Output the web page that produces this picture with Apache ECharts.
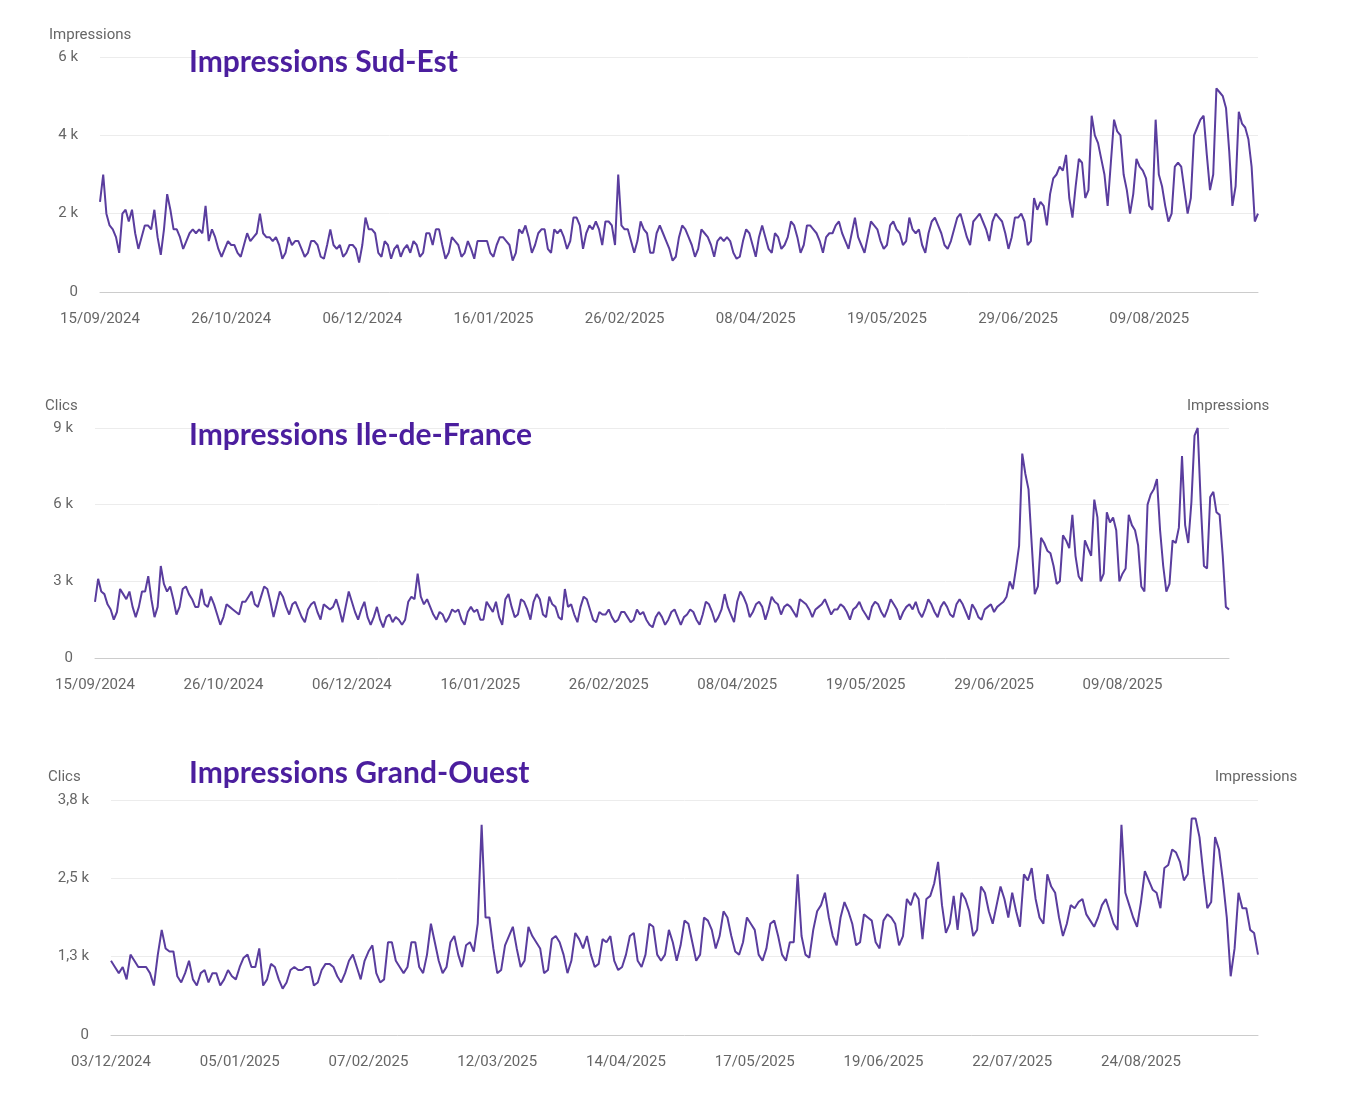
<!DOCTYPE html>
<html>
<head>
<meta charset="utf-8">
<script src="https://cdn.jsdelivr.net/npm/echarts@6/dist/echarts.min.js"></script>
<style>html,body{margin:0;padding:0;background:#fff}#c{width:1353px;height:1108px}</style>
</head>
<body>
<div id="c"></div>
<script>
// daily values, in thousands of impressions
var sudEst = [
  2.3,3.0,2.0,1.7,1.6,1.4,1.0, 2.0,2.1,1.8,2.1,1.5,1.1,1.4, 1.7,1.7,1.6,2.1,1.4,0.95,1.6,
  2.5,2.1,1.6,1.6,1.4,1.1,1.3, 1.5,1.6,1.5,1.6,1.5,2.2,1.3, 1.6,1.4,1.1,0.9,1.1,1.3,1.2,
  1.2,1.0,0.9,1.2,1.5,1.3,1.4, 1.5,2.0,1.5,1.4,1.4,1.3,1.4, 1.2,0.85,1.0,1.4,1.2,1.3,1.3,
  1.1,0.9,1.0,1.3,1.3,1.2,0.9, 0.85,1.2,1.6,1.2,1.1,1.2,0.9, 1.0,1.2,1.2,1.1,0.75,1.2,1.9,
  1.6,1.6,1.5,1.0,0.9,1.3,1.2, 0.85,1.1,1.2,0.9,1.1,1.2,1.0, 1.3,1.2,0.9,1.0,1.5,1.5,1.2,
  1.6,1.6,1.2,0.85,1.0,1.4,1.3, 1.2,0.9,1.0,1.3,1.1,0.85,1.3, 1.3,1.3,1.3,1.0,0.9,1.2,1.4,
  1.4,1.3,1.2,0.8,1.0,1.6,1.5, 1.7,1.4,1.0,1.2,1.5,1.6,1.6, 1.1,1.0,1.6,1.5,1.6,1.4,1.1,
  1.3,1.9,1.9,1.7,1.1,1.5,1.7, 1.6,1.8,1.6,1.2,1.8,1.8,1.7, 1.2,3.0,1.7,1.6,1.6,1.3,1.0,
  1.3,1.8,1.6,1.5,1.0,1.0,1.5, 1.7,1.5,1.3,1.1,0.8,0.9,1.4, 1.7,1.6,1.4,1.2,0.9,1.1,1.6,
  1.5,1.4,1.2,0.9,1.3,1.4,1.3, 1.4,1.3,1.0,0.85,0.9,1.3,1.6, 1.5,1.2,0.9,1.4,1.7,1.4,1.1,
  1.0,1.5,1.4,1.1,1.2,1.4,1.8, 1.7,1.4,1.0,1.2,1.7,1.7,1.6, 1.5,1.3,1.0,1.4,1.5,1.5,1.7,
  1.8,1.5,1.3,1.1,1.5,1.9,1.4, 1.2,1.0,1.4,1.8,1.7,1.6,1.3, 1.1,1.2,1.7,1.8,1.6,1.5,1.2,
  1.3,1.9,1.6,1.5,1.6,1.2,1.0, 1.5,1.8,1.9,1.7,1.5,1.2,1.1, 1.3,1.6,1.9,2.0,1.7,1.4,1.2,
  1.8,1.9,2.0,1.8,1.6,1.3,1.8, 2.0,1.9,1.8,1.5,1.1,1.4,1.9, 1.9,2.0,1.8,1.2,1.3,2.4,2.1,
  2.3,2.2,1.7,2.5,2.9,3.0,3.2, 3.1,3.5,2.4,1.9,2.7,3.4,3.3, 2.4,2.6,4.5,4.0,3.8,3.4,3.0,
  2.2,3.3,4.4,4.1,4.0,3.0,2.6, 2.0,2.5,3.4,3.2,3.1,2.9,2.2, 2.1,4.4,3.0,2.7,2.2,1.8,2.0,
  3.2,3.3,3.2,2.6,2.0,2.4,4.0, 4.2,4.4,4.5,3.5,2.6,3.0,5.2, 5.1,5.0,4.7,3.6,2.2,2.7,4.6,
  4.3,4.2,3.9,3.2,1.8,2.0
];
var ileDeFrance = [
  2.2,3.1,2.6,2.5,2.1,1.9,1.5, 1.8,2.7,2.5,2.3,2.6,2.0,1.6, 2.0,2.6,2.6,3.2,2.3,1.6,2.0,
  3.6,2.9,2.6,2.8,2.3,1.7,2.0, 2.7,2.8,2.5,2.3,2.0,2.0,2.7, 2.1,2.0,2.4,2.1,1.7,1.3,1.6,
  2.1,2.0,1.9,1.8,1.7,2.2,2.2, 2.4,2.6,2.1,2.0,2.4,2.8,2.7, 2.2,1.6,2.1,2.6,2.4,2.0,1.7,
  2.1,2.2,1.9,1.6,1.4,1.9,2.1, 2.2,1.8,1.5,2.1,2.0,1.9,2.0, 2.3,1.9,1.4,2.0,2.6,2.2,1.8,
  1.5,1.9,2.2,1.6,1.3,1.6,2.0, 1.5,1.2,1.6,1.7,1.4,1.6,1.5, 1.3,1.5,2.2,2.4,2.3,3.3,2.4,
  2.1,2.3,2.0,1.7,1.5,1.8,1.7, 1.4,1.6,1.9,1.8,1.9,1.5,1.3, 1.8,2.0,1.8,1.9,1.5,1.5,2.2,
  2.0,1.8,2.2,1.6,1.3,2.3,2.5, 2.0,1.6,1.7,2.3,2.2,1.9,1.5, 2.2,2.5,2.3,1.7,1.6,2.4,2.1,
  2.0,1.6,1.5,2.7,2.0,2.1,1.7, 1.4,2.0,2.4,2.3,1.9,1.5,1.4, 1.8,1.7,1.7,1.9,1.6,1.4,1.5,
  1.8,1.8,1.6,1.4,1.5,1.9,1.7, 1.8,1.5,1.3,1.2,1.6,1.8,1.6, 1.3,1.5,1.8,1.9,1.6,1.3,1.6,
  1.7,1.9,1.8,1.5,1.3,1.7,2.2, 2.1,1.8,1.4,1.6,1.9,2.5,2.0, 1.7,1.4,2.2,2.6,2.4,2.1,1.6,
  1.8,2.1,2.2,2.0,1.5,1.9,2.4, 2.2,2.1,1.7,2.0,2.1,2.0,1.8, 1.6,2.3,2.2,2.1,1.9,1.6,1.9,
  2.0,2.1,2.3,2.0,1.7,1.9,1.9, 2.1,2.0,1.8,1.5,1.9,2.0,2.2, 1.9,1.7,1.5,2.0,2.2,2.1,1.8,
  1.6,1.9,2.3,2.1,1.9,1.5,1.8, 2.0,2.1,1.9,2.2,1.8,1.6,1.9, 2.3,2.1,1.8,1.6,2.0,2.2,2.0,
  1.7,1.6,2.1,2.3,2.1,1.8,1.5, 2.1,1.9,1.6,1.5,1.9,2.0,2.1, 1.8,2.0,2.1,2.2,2.4,3.0,2.7,
  3.5,4.4,8.0,7.2,6.6,4.5,2.5, 2.8,4.7,4.5,4.2,4.1,3.6,2.9, 3.0,4.8,4.6,4.3,5.6,4.0,3.2,
  3.0,4.6,4.3,4.0,6.2,5.5,3.0, 3.3,5.7,5.3,5.5,5.0,3.0,3.3, 3.5,5.6,5.2,5.0,4.4,2.8,2.6,
  6.0,6.4,6.6,7.0,5.0,3.6,2.6, 2.9,4.6,4.5,5.1,7.9,5.2,4.5, 6.1,8.7,9.0,6.0,3.6,3.5,6.3,
  6.5,5.7,5.6,4.0,2.0,1.9
];
var grandOuest = [
  1.2,1.1,1.0,1.1,0.9,1.3,1.2, 1.1,1.1,1.1,1.0,0.8,1.3,1.7, 1.4,1.35,1.35,0.95,0.85,1.0,1.2,
  0.9,0.8,1.0,1.05,0.85,1.0,1.0, 0.8,0.9,1.05,0.95,0.9,1.1,1.25, 1.3,1.1,1.1,1.4,0.8,0.9,1.15,
  1.1,0.9,0.75,0.85,1.05,1.1,1.05, 1.05,1.1,1.1,0.8,0.85,1.05,1.15, 1.15,1.1,0.95,0.85,1.0,1.2,1.3,
  1.1,0.9,1.2,1.35,1.45,1.0,0.85, 0.9,1.5,1.5,1.2,1.1,1.0,1.1, 1.5,1.5,1.1,1.0,1.3,1.8,1.5,
  1.2,1.0,1.1,1.5,1.6,1.3,1.1, 1.45,1.5,1.35,1.8,3.4,1.9,1.9, 1.4,1.0,1.05,1.45,1.6,1.75,1.4,
  1.1,1.2,1.75,1.6,1.5,1.4,1.0, 1.05,1.55,1.6,1.5,1.3,1.0,1.2, 1.65,1.55,1.4,1.6,1.3,1.1,1.15,
  1.55,1.5,1.6,1.2,1.05,1.1,1.3, 1.6,1.65,1.2,1.1,1.3,1.8,1.75, 1.3,1.2,1.3,1.7,1.5,1.2,1.45,
  1.85,1.8,1.5,1.2,1.3,1.9,1.85, 1.7,1.4,1.6,2.0,1.9,1.6,1.35, 1.3,1.5,1.9,1.8,1.7,1.3,1.2,
  1.4,1.8,1.85,1.6,1.3,1.2,1.5, 1.5,2.6,1.6,1.3,1.25,1.7,2.0, 2.1,2.3,1.9,1.6,1.45,1.9,2.15,
  2.0,1.8,1.45,1.5,1.95,1.9,1.85, 1.5,1.4,1.85,1.95,1.9,1.8,1.45, 1.6,2.2,2.1,2.3,2.2,1.55,2.2,
  2.25,2.45,2.8,2.1,1.65,1.8,2.25, 1.7,2.3,2.2,2.0,1.6,1.7,2.4, 2.3,2.0,1.8,2.1,2.4,2.2,1.9,
  2.3,2.0,1.75,2.6,2.5,2.7,2.2, 1.9,1.8,2.6,2.4,2.3,1.9,1.6, 1.8,2.1,2.05,2.15,2.2,1.95,1.85,
  1.75,1.9,2.1,2.2,2.0,1.8,1.7, 3.4,2.3,2.1,1.9,1.75,2.15,2.65, 2.5,2.35,2.3,2.05,2.7,2.75,3.0,
  2.95,2.8,2.5,2.6,3.5,3.5,3.2, 2.6,2.05,2.15,3.2,3.0,2.5,1.9, 0.95,1.4,2.3,2.05,2.05,1.7,1.65,
  1.3
];

function days(start, n) {
  var out = [], d = new Date(start + 'T12:00:00Z');
  for (var i = 0; i < n; i++) {
    var t = new Date(d.getTime() + i * 86400000);
    out.push(('0' + t.getUTCDate()).slice(-2) + '/' + ('0' + (t.getUTCMonth() + 1)).slice(-2) + '/' + t.getUTCFullYear());
  }
  return out;
}
var dates1 = days('2024-09-15', sudEst.length);
var dates2 = days('2024-09-15', ileDeFrance.length);
var dates3 = days('2024-12-03', grandOuest.length);

var chart = echarts.init(document.getElementById('c'));
var lineColor = '#5a3d9e';
var grey = '#666';
var font = 'Roboto, sans-serif';

function xAx(idx, data, step) {
  return {
    type: 'category', gridIndex: idx, data: data, boundaryGap: false,
    axisTick: { show: false },
    axisLine: { lineStyle: { color: '#ccc' } },
    axisLabel: { interval: step - 1, color: grey, fontSize: 15, fontFamily: font, margin: 20 }
  };
}
function yAx(idx, max, interval, fmt) {
  return {
    type: 'value', gridIndex: idx, min: 0, max: max, interval: interval,
    axisLabel: { color: grey, fontSize: 15, fontFamily: font, margin: 22, formatter: fmt },
    splitLine: { lineStyle: { color: '#ececec' } }
  };
}
function ser(idx, data) {
  return { type: 'line', xAxisIndex: idx, yAxisIndex: idx, data: data, showSymbol: false,
    lineStyle: { color: lineColor, width: 2 }, itemStyle: { color: lineColor } };
}
var titleStyle = { color: '#4b1e9e', fontSize: 30, fontWeight: 'bold', fontFamily: 'Lato, sans-serif' };
function lbl(x, y, t) {
  return { type: 'text', left: x, top: y, style: { text: t, fill: grey, font: '15px ' + font } };
}

chart.setOption({
  animation: false,
  title: [
    { text: 'Impressions Sud-Est', left: 184, top: 42, textStyle: titleStyle },
    { text: 'Impressions Ile-de-France', left: 184, top: 415, textStyle: titleStyle },
    { text: 'Impressions Grand-Ouest', left: 184, top: 753, textStyle: titleStyle }
  ],
  grid: [
    { left: 100, top: 57, width: 1158, height: 235 },
    { left: 95, top: 428, width: 1134, height: 230 },
    { left: 111, top: 800, width: 1147, height: 235 }
  ],
  xAxis: [xAx(0, dates1, 41), xAx(1, dates2, 41), xAx(2, dates3, 33)],
  yAxis: [
    yAx(0, 6, 2, function (v) { return v === 0 ? '0' : v + ' k'; }),
    yAx(1, 9, 3, function (v) { return v === 0 ? '0' : v + ' k'; }),
    yAx(2, 3.8, 3.8 / 3, function (v) { return v === 0 ? '0' : v.toFixed(1).replace('.', ',') + ' k'; })
  ],
  series: [ser(0, sudEst), ser(1, ileDeFrance), ser(2, grandOuest)],
  graphic: [
    lbl(49, 28, 'Impressions'),
    lbl(45, 399, 'Clics'),
    lbl(1187, 399, 'Impressions'),
    lbl(48, 770, 'Clics'),
    lbl(1215, 770, 'Impressions')
  ]
});
</script>
</body>
</html>
